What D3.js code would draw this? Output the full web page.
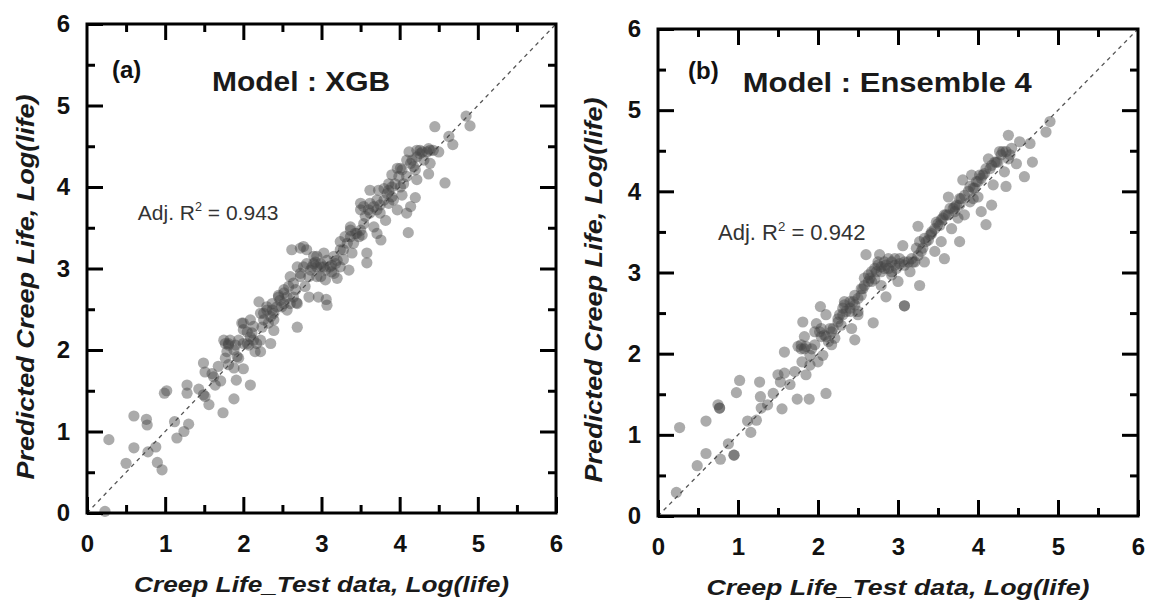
<!DOCTYPE html>
<html>
<head>
<meta charset="utf-8">
<script src="https://cdn.jsdelivr.net/npm/d3@7"></script>
<style>
  html, body { margin: 0; padding: 0; background: #fff; }
  svg { display: block; }
  text { font-family: "Liberation Sans", Arial, Helvetica, sans-serif; }
</style>
</head>
<body>
<svg id="chart" width="1149" height="602"></svg>
<script>
// ---------------- DATA ----------------
const majorTicks = [0, 1, 2, 3, 4, 5, 6];
const minorTicks = [0.5, 1.5, 2.5, 3.5, 4.5, 5.5];
const tickLabels = ["0", "1", "2", "3", "4", "5", "6"];

const xTitle = "Creep Life_Test data, Log(life)";
const yTitle = "Predicted Creep Life, Log(life)";

// Panel (a) : XGB — test data vs predicted
const xgbActual = [0.23,0.28,0.60,0.60,0.50,0.76,0.77,0.78,0.88,0.90,0.96,0.99,1.02,1.12,1.15,1.24,1.30,1.28,1.28,1.43,
1.49,1.51,1.56,1.49,1.51,1.60,1.64,1.71,1.74,1.88,1.91,2.09,2.00,1.88,1.77,1.81,1.75,1.81,1.79,1.90,
1.94,1.98,2.00,2.05,2.09,2.11,2.15,2.22,2.20,2.24,2.26,2.32,2.35,2.37,2.39,2.45,2.49,2.56,2.52,2.58,
2.62,2.69,2.69,2.69,2.73,2.77,2.79,2.84,2.86,2.90,2.94,2.96,2.99,3.03,3.05,3.07,3.06,3.13,3.16,3.20,
3.24,3.28,3.35,3.37,3.39,3.45,3.50,3.52,3.58,3.58,3.60,3.62,3.67,3.71,3.75,3.76,3.80,3.82,3.86,3.90,
3.92,3.97,4.01,4.03,4.05,4.09,4.11,4.12,4.14,4.20,4.20,4.22,4.26,4.35,4.37,4.39,4.45,4.50,4.58,4.63,
4.68,4.85,4.90,
1.77,1.83,1.88,1.94,2.00,2.05,2.09,2.13,2.17,2.22,2.26,2.30,2.35,2.39,2.43,2.47,2.52,2.56,2.60,2.64,
2.67,2.60,2.64,2.73,2.77,2.81,2.84,2.88,2.92,2.94,2.99,3.03,3.07,3.11,3.16,3.18,3.24,3.28,3.33,3.37,
3.41,3.48,3.50,3.54,3.56,3.62,3.67,3.71,3.75,3.80,3.84,3.86,3.90,3.94,3.99,4.03,4.09,4.14,4.18,4.22,
4.26,4.31,4.39,
1.81,2.00,2.07,2.30,2.37,2.45,2.52,2.68,2.73,2.81,2.90,2.94,2.99,3.05,3.13,3.20,3.24,3.30,3.37,3.43,
3.50,3.54,3.62,3.71,3.73,3.86,3.90,3.97,4.01,4.09,4.16,4.22,4.29,4.37,4.43,2.39,2.22,2.13,1.92,1.68,
1.62];
const xgbPredicted = [0.02,0.90,1.19,0.80,0.61,1.15,1.08,0.75,0.81,0.62,0.53,1.47,1.50,1.12,0.92,1.00,1.09,1.57,1.47,1.52,
1.45,1.43,1.33,1.84,1.73,1.71,1.57,1.62,1.23,1.40,1.63,1.57,1.77,1.78,1.90,1.82,2.12,2.08,1.98,2.06,
1.90,2.33,2.25,2.08,2.37,2.21,1.98,1.98,2.59,2.28,2.45,2.33,2.08,2.49,2.24,2.65,2.53,2.65,2.74,2.78,
3.23,3.02,2.57,2.28,2.90,3.27,2.78,2.65,2.98,3.15,3.02,2.65,2.90,3.19,2.86,2.55,2.62,2.96,3.15,2.88,
3.33,3.11,2.98,3.51,3.19,3.43,3.80,3.41,3.19,3.07,3.72,3.96,3.51,3.43,3.78,3.35,3.98,3.59,3.96,4.15,
3.84,3.72,4.23,3.90,4.04,3.68,3.44,4.43,3.76,4.21,3.87,4.09,4.45,4.43,4.16,4.29,4.74,4.43,4.05,4.62,
4.52,4.87,4.75,
2.08,2.12,2.00,2.12,2.33,2.22,2.16,2.12,2.08,2.12,2.37,2.49,2.41,2.45,2.53,2.61,2.57,2.49,2.57,2.65,
2.74,2.90,2.82,2.94,3.02,3.06,2.90,3.02,3.08,2.90,3.06,3.02,3.10,3.02,2.94,3.06,3.02,3.23,3.31,3.39,
3.31,3.39,3.47,3.55,3.64,3.68,3.76,3.72,3.68,3.84,3.92,3.80,4.00,4.04,4.13,4.21,4.33,4.29,4.25,4.37,
4.41,4.33,4.45,
2.06,2.08,2.06,2.53,2.57,2.67,2.70,2.58,3.25,3.23,3.06,3.15,3.02,2.98,3.04,3.10,3.23,3.39,3.47,3.43,
3.72,3.76,3.80,3.84,3.96,4.04,3.88,4.23,4.00,4.13,4.33,4.45,4.43,4.47,4.45,2.37,2.45,2.29,1.92,1.80,
1.67];

// Panel (b) : Ensemble 4 — test data vs predicted
const ensActual = [0.27,0.23,0.49,0.60,0.60,0.75,0.77,0.78,0.88,0.95,0.98,1.02,1.12,1.16,1.23,1.27,1.28,1.29,1.37,1.44,
1.50,1.53,1.55,1.58,1.58,1.65,1.71,1.74,1.79,1.80,1.81,1.83,1.85,1.89,1.90,1.92,1.98,2.00,2.03,2.04,
2.06,2.10,2.10,2.15,2.17,2.21,2.27,2.29,2.33,2.40,2.42,2.46,2.46,2.50,2.56,2.60,2.63,2.67,2.69,2.73,
2.77,2.79,2.83,2.85,2.88,2.92,2.96,3.00,3.06,3.08,3.08,3.15,3.19,3.25,3.27,3.25,3.31,3.33,3.38,3.42,
3.46,3.50,3.54,3.58,3.58,3.63,3.67,3.71,3.75,3.77,3.79,3.81,3.83,3.90,3.92,3.94,4.00,4.02,4.04,4.08,
4.10,4.13,4.17,4.19,4.23,4.27,4.33,4.35,4.38,4.40,4.48,4.52,4.58,4.65,4.68,4.85,4.90,
1.75,1.83,1.90,1.96,2.02,2.08,2.13,2.19,2.25,2.31,2.35,2.40,2.44,2.50,2.54,2.58,2.63,2.67,2.71,2.75,
2.79,2.83,2.88,2.92,2.98,3.02,3.13,3.21,3.29,3.35,3.40,3.46,3.52,3.56,3.63,3.69,3.73,3.77,3.88,3.96,
4.00,4.06,4.15,4.21,4.29,4.35,
3.08,0.77,0.95,
1.79,1.85,1.96,2.04,2.10,2.17,2.25,2.31,2.33,2.40,2.46,2.50,2.54,2.58,2.65,2.71,2.75,2.79,2.85,2.92,
2.96,3.02,3.08,3.17,3.23,3.27,3.33,3.42,3.48,3.54,3.60,3.65,3.71,3.77,3.83,3.90,3.94,3.98,4.04,4.10,
4.17,4.25,4.31,4.38,4.42];
const ensPredicted = [1.09,0.29,0.62,0.77,1.17,1.37,1.33,0.70,0.89,0.75,1.52,1.67,1.17,1.03,1.18,1.65,1.47,1.33,1.37,1.51,
1.74,1.65,1.32,2.02,1.76,1.62,1.78,1.44,2.06,1.90,2.39,2.21,1.74,1.44,1.86,2.06,2.37,1.90,2.58,2.21,
1.98,1.51,2.48,2.31,2.11,2.19,2.48,2.35,2.60,2.64,2.31,2.17,2.72,2.52,2.80,3.22,2.97,2.89,2.38,3.01,
3.22,2.84,3.05,2.70,3.17,2.97,3.09,2.89,3.33,2.59,3.13,3.01,3.13,3.21,2.84,3.57,3.30,3.13,3.40,3.50,
3.26,3.60,3.38,3.17,3.71,3.93,3.54,3.81,3.67,3.38,3.91,4.14,3.71,3.87,4.20,4.04,3.93,4.20,3.75,4.22,
3.59,4.40,3.83,4.08,4.36,4.49,4.24,4.06,4.69,4.45,4.34,4.61,4.18,4.59,4.36,4.73,4.86,
2.09,2.06,1.98,2.11,2.27,2.23,2.15,2.31,2.39,2.48,2.52,2.56,2.64,2.68,2.72,2.84,2.89,3.01,2.92,3.09,
3.01,3.13,3.05,3.13,3.05,3.17,3.13,3.13,3.26,3.38,3.46,3.54,3.58,3.67,3.71,3.79,3.83,3.91,4.00,4.04,
4.12,4.20,4.28,4.36,4.45,4.49,
2.59,1.33,0.75,
2.11,2.09,2.27,2.31,2.21,2.27,2.43,2.56,2.64,2.52,2.60,2.48,2.80,2.93,2.93,3.05,3.13,3.07,3.09,3.01,
3.17,3.11,3.09,3.17,3.30,3.38,3.42,3.48,3.62,3.65,3.71,3.79,3.75,3.83,3.95,4.06,3.91,4.12,4.16,4.28,
4.32,4.36,4.49,4.40,4.53];

const panelLabels = ["(a)", "(b)"];
const modelNames = ["Model : XGB", "Model : Ensemble 4"];
const adjR2 = ["0.943", "0.942"];

// ---------------- LAYOUT ----------------
const panels = [
  { frame: { left: 87, top: 24, right: 556, bottom: 513 },
    actual: xgbActual, predicted: xgbPredicted,
    label: panelLabels[0], model: modelNames[0], r2: adjR2[0],
    labelPos: [0.32, 5.34], modelPos: [1.60, 5.18], modelWidth: 178, r2Pos: [0.65, 3.60], r2Size: 21,
    xTitleY: 592, xTitleW: 375, yTitleX: 34, yTitleCY: 287, yTitleW: 385 },
  { frame: { left: 658, top: 29, right: 1138, bottom: 516 },
    actual: ensActual, predicted: ensPredicted,
    label: panelLabels[1], model: modelNames[1], r2: adjR2[1],
    labelPos: [0.375, 5.39], modelPos: [1.06, 5.22], modelWidth: 289, r2Pos: [0.75, 3.40], r2Size: 22,
    xTitleY: 595, xTitleW: 383, yTitleX: 602, yTitleCY: 290, yTitleW: 385 }
];

const svg = d3.select("#chart");

panels.forEach(p => {
  const f = p.frame;
  const x = d3.scaleLinear().domain([0, 6]).range([f.left, f.right]);
  const y = d3.scaleLinear().domain([0, 6]).range([f.bottom, f.top]);
  const g = svg.append("g");

  // diagonal reference line
  g.append("line")
    .attr("x1", x(0)).attr("y1", y(0))
    .attr("x2", x(6)).attr("y2", y(6))
    .attr("stroke", "#555").attr("stroke-width", 1.3)
    .attr("stroke-dasharray", "4,4");

  // points
  const pts = p.actual.map((a, i) => ({ a, p: p.predicted[i] }));
  g.append("g").selectAll("circle").data(pts).join("circle")
    .attr("cx", d => x(d.a)).attr("cy", d => y(d.p))
    .attr("r", 5.6)
    .attr("fill", "#454545").attr("fill-opacity", 0.45);

  // axes
  const styleAxis = sel => {
    sel.select(".domain").remove();
    sel.selectAll(".tick line").attr("stroke", "#000").attr("stroke-width", 3);
    sel.selectAll(".tick text")
      .attr("fill", "#111")
      .style("font-size", "24px").style("font-weight", "bold")
      .style("font-family", '"Liberation Sans", Arial, sans-serif');
  };

  const fmt = v => tickLabels[majorTicks.indexOf(v)];

  g.append("g").attr("transform", `translate(0,${f.bottom})`)
    .call(d3.axisBottom(x).tickValues(majorTicks).tickSizeInner(-16).tickSizeOuter(0).tickPadding(22).tickFormat(fmt))
    .call(styleAxis);
  g.append("g").attr("transform", `translate(0,${f.bottom})`)
    .call(d3.axisBottom(x).tickValues(minorTicks).tickSizeInner(-8).tickSizeOuter(0).tickFormat(""))
    .call(styleAxis);
  g.append("g").attr("transform", `translate(0,${f.top})`)
    .call(d3.axisTop(x).tickValues(majorTicks.slice(1, -1)).tickSizeInner(-16).tickSizeOuter(0).tickFormat(""))
    .call(styleAxis);
  g.append("g").attr("transform", `translate(0,${f.top})`)
    .call(d3.axisTop(x).tickValues(minorTicks).tickSizeInner(-8).tickSizeOuter(0).tickFormat(""))
    .call(styleAxis);

  g.append("g").attr("transform", `translate(${f.left},0)`)
    .call(d3.axisLeft(y).tickValues(majorTicks).tickSizeInner(-16).tickSizeOuter(0).tickPadding(17).tickFormat(fmt))
    .call(styleAxis);
  g.append("g").attr("transform", `translate(${f.left},0)`)
    .call(d3.axisLeft(y).tickValues(minorTicks).tickSizeInner(-8).tickSizeOuter(0).tickFormat(""))
    .call(styleAxis);
  g.append("g").attr("transform", `translate(${f.right},0)`)
    .call(d3.axisRight(y).tickValues(majorTicks.slice(1, -1)).tickSizeInner(-16).tickSizeOuter(0).tickFormat(""))
    .call(styleAxis);
  g.append("g").attr("transform", `translate(${f.right},0)`)
    .call(d3.axisRight(y).tickValues(minorTicks).tickSizeInner(-8).tickSizeOuter(0).tickFormat(""))
    .call(styleAxis);

  // frame
  g.append("rect")
    .attr("x", f.left).attr("y", f.top)
    .attr("width", f.right - f.left).attr("height", f.bottom - f.top)
    .attr("fill", "none").attr("stroke", "#000").attr("stroke-width", 3);

  // panel label
  g.append("text")
    .attr("x", x(p.labelPos[0])).attr("y", y(p.labelPos[1]))
    .attr("fill", "#111").style("font-size", "24px").style("font-weight", "bold")
    .text(p.label);

  // model title
  g.append("text")
    .attr("x", x(p.modelPos[0])).attr("y", y(p.modelPos[1]))
    .attr("fill", "#1a1a1a").style("font-size", "27px").style("font-weight", "bold")
    .attr("textLength", p.modelWidth).attr("lengthAdjust", "spacingAndGlyphs")
    .text(p.model);

  // adjusted R2
  const t = g.append("text")
    .attr("x", x(p.r2Pos[0])).attr("y", y(p.r2Pos[1]))
    .attr("fill", "#333").style("font-size", p.r2Size + "px");
  t.append("tspan").text("Adj. R");
  t.append("tspan").attr("dy", -9).style("font-size", (p.r2Size * 0.6) + "px").text("2");
  t.append("tspan").attr("dy", 9).text(" = " + p.r2);

  // axis titles
  g.append("text")
    .attr("x", (f.left + f.right) / 2 - p.xTitleW / 2).attr("y", p.xTitleY)
    .attr("fill", "#1a1a1a").style("font-size", "22px")
    .style("font-weight", "bold").style("font-style", "italic")
    .attr("textLength", p.xTitleW).attr("lengthAdjust", "spacingAndGlyphs")
    .text(xTitle);

  g.append("text")
    .attr("transform", `translate(${p.yTitleX},${p.yTitleCY + p.yTitleW / 2}) rotate(-90)`)
    .attr("fill", "#1a1a1a").style("font-size", "23px")
    .style("font-weight", "bold").style("font-style", "italic")
    .attr("textLength", p.yTitleW).attr("lengthAdjust", "spacingAndGlyphs")
    .text(yTitle);
});
</script>
</body>
</html>
